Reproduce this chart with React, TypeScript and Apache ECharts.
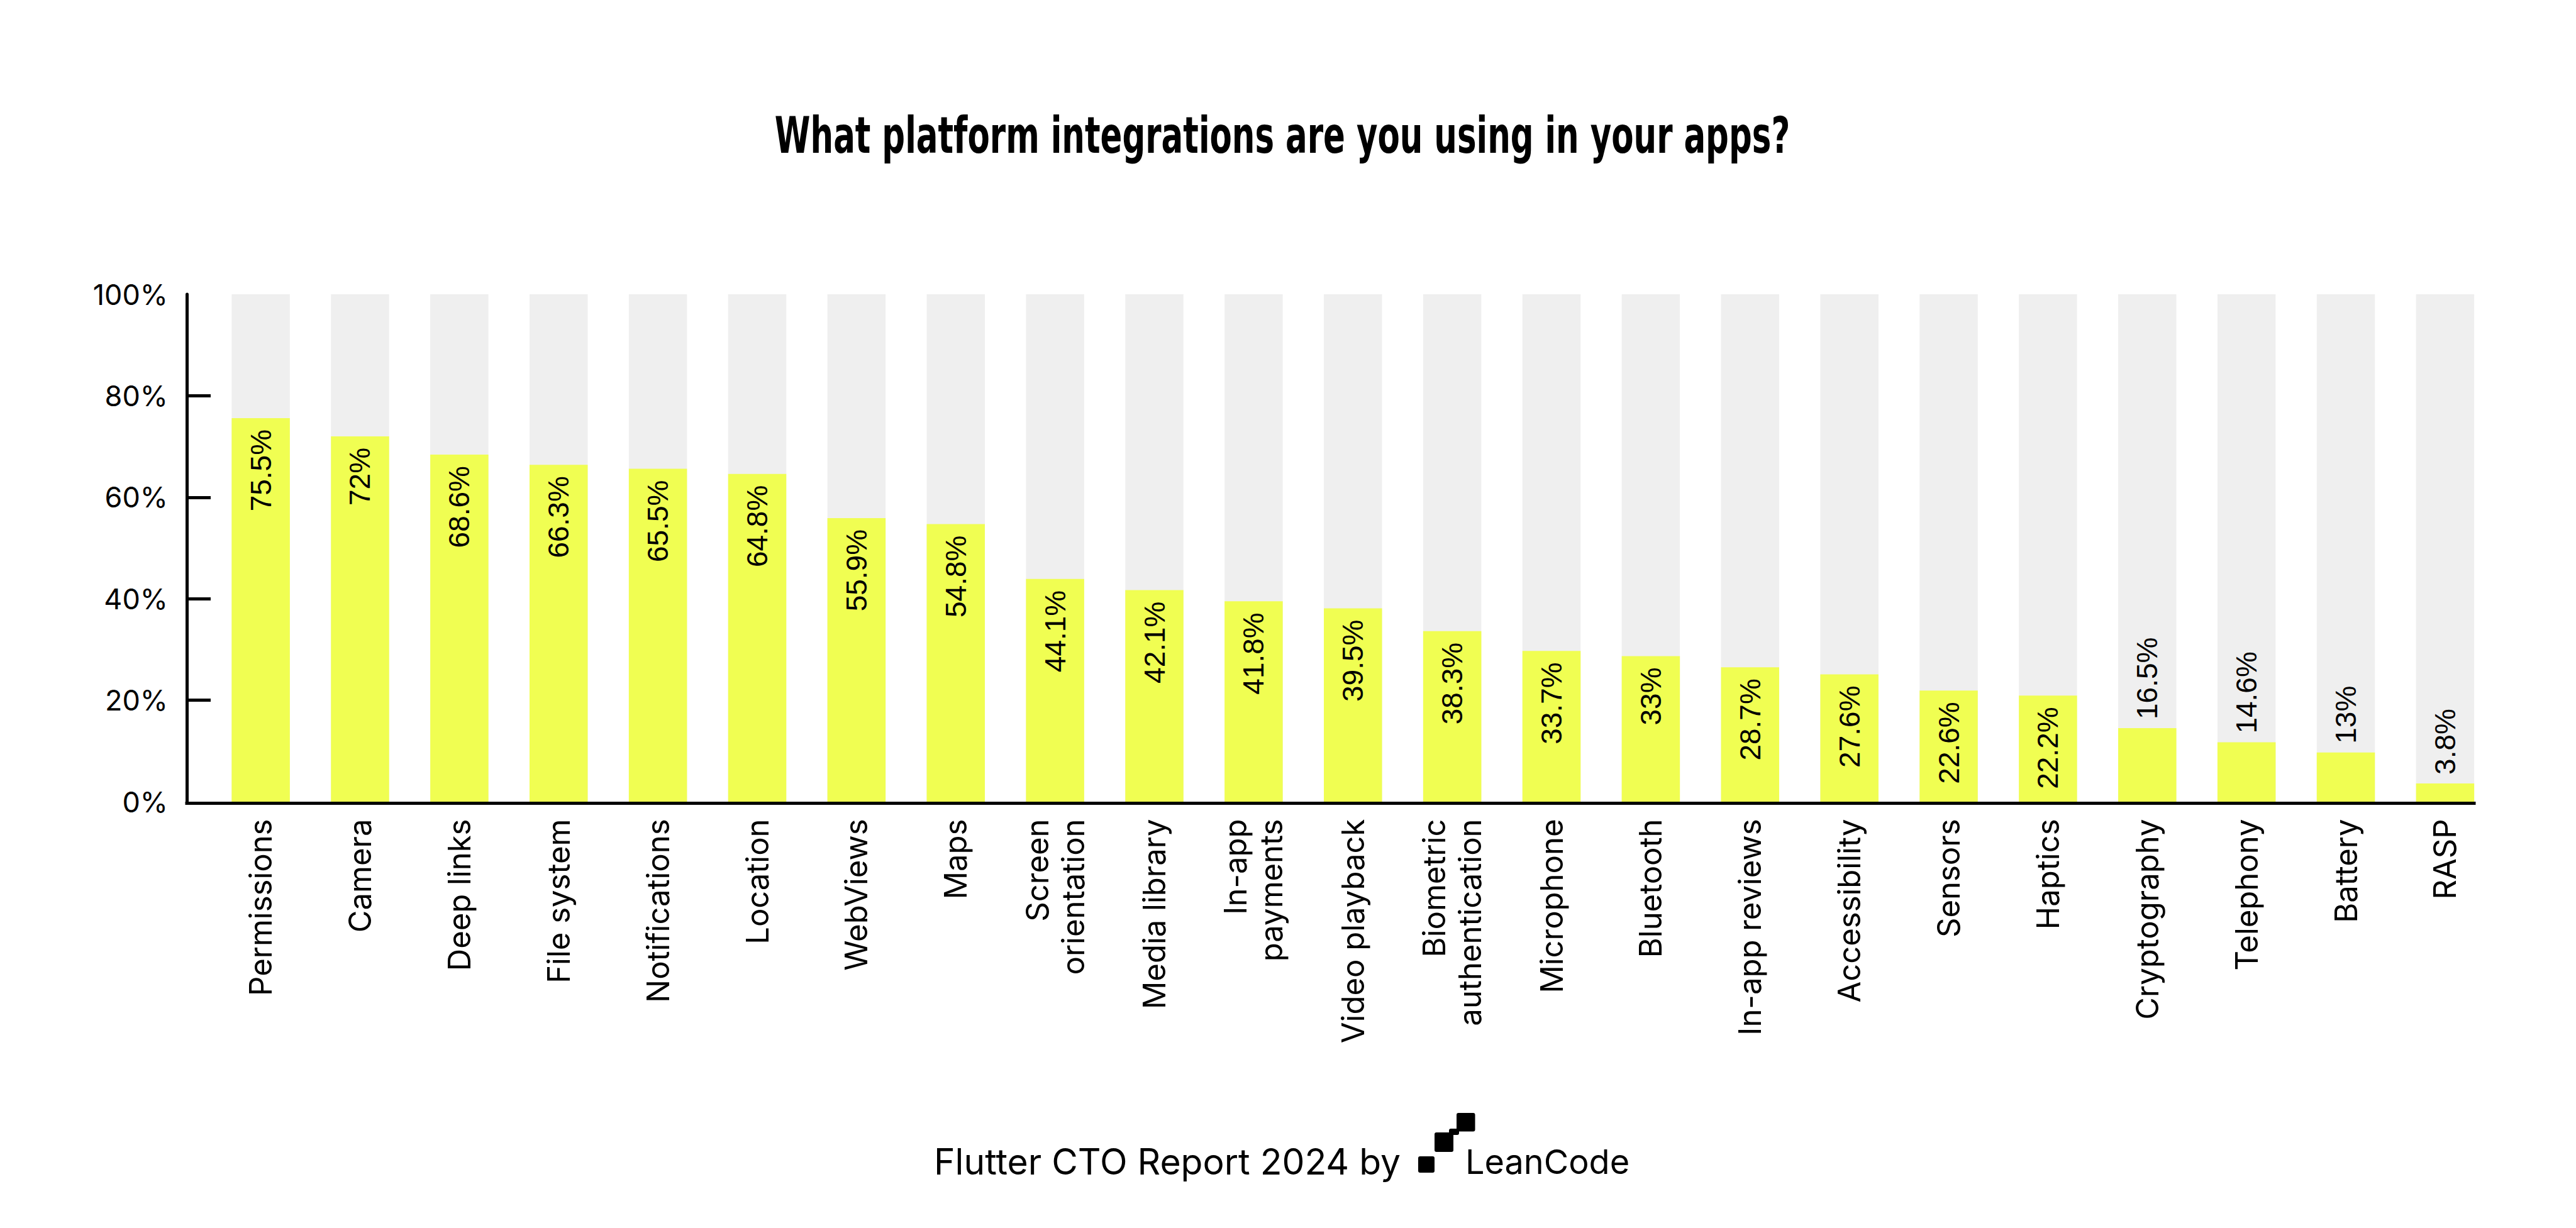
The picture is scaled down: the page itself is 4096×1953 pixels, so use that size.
import React, { useEffect, useRef } from 'react';
import * as echarts from 'echarts';

// ---- data ----
const categories = [
  'Permissions', 'Camera', 'Deep links', 'File system', 'Notifications', 'Location',
  'WebViews', 'Maps', 'Screen\norientation', 'Media library', 'In-app\npayments',
  'Video playback', 'Biometric\nauthentication', 'Microphone', 'Bluetooth',
  'In-app reviews', 'Accessibility', 'Sensors', 'Haptics', 'Cryptography',
  'Telephony', 'Battery', 'RASP',
];
// bar heights as drawn in the reference (percent)
const barHeights = [
  75.6, 72.0, 68.4, 66.4, 65.6, 64.6, 55.9, 54.7, 43.9, 41.7, 39.5, 38.1,
  33.6, 29.7, 28.7, 26.5, 25.1, 21.9, 20.9, 14.5, 11.7, 9.7, 3.6,
];
// values printed on the bars (percent)
const printedValues = [
  75.5, 72, 68.6, 66.3, 65.5, 64.8, 55.9, 54.8, 44.1, 42.1, 41.8, 39.5,
  38.3, 33.7, 33, 28.7, 27.6, 22.6, 22.2, 16.5, 14.6, 13, 3.8,
];
const yInnerTicks = [20, 40, 60, 80];
const TITLE = 'What platform integrations are you using in your apps?';
const FOOTER = 'Flutter CTO Report 2024 by';
const BRAND = 'LeanCode';

const YELLOW = '#f0fe52';
const GREY = '#efefef';

function measure(font: string, text: string): number {
  const c = document.createElement('canvas').getContext('2d');
  if (!c) return 0;
  c.font = font;
  return c.measureText(text).width;
}

export default function App() {
  const ref = useRef<HTMLDivElement>(null);

  useEffect(() => {
    document.body.style.margin = '0';
    if (!ref.current) return;
    const chart = echarts.init(ref.current, undefined, { renderer: 'svg' });

    const titleW = measure('bold 80px "DejaVu Sans"', TITLE) || 2300;
    const titleScale = 1614 / titleW;

    const catIdx = categories.map((_, i) => i);

    const option: any = {
      animation: false,
      backgroundColor: '#ffffff',
      grid: {
        left: 297,
        right: 162,
        top: 468,
        bottom: 678,
        containLabel: false,
        outerBoundsMode: 'none',
      },
      xAxis: {
        type: 'value',
        name: '',
        min: -0.745,
        max: 22.292,
        offset: 2.5,
        splitLine: { show: false },
        axisTick: { show: false },
        axisLine: { show: true, onZero: false, lineStyle: { color: '#000', width: 5, cap: 'square' } },
        axisLabel: {
          show: true,
          customValues: catIdx,
          formatter: (v: number) => categories[Math.round(v)] ?? '',
          rotate: 90,
          margin: 25,
          color: '#000',
          fontFamily: 'Inter',
          fontSize: 49,
          lineHeight: 57,
          hideOverlap: false,
        },
      },
      yAxis: {
        type: 'value',
        name: '',
        min: 0,
        max: 100,
        interval: 20,
        splitLine: { show: false },
        axisLine: { show: true, onZero: false, lineStyle: { color: '#000', width: 5 } },
        axisTick: {
          show: true,
          inside: true,
          length: 38,
          customValues: yInnerTicks,
          lineStyle: { color: '#000', width: 5 },
        },
        axisLabel: {
          formatter: '{value}%',
          margin: 30,
          color: '#000',
          fontFamily: 'Inter',
          fontSize: 45,
        },
      },
      series: [
        {
          type: 'bar',
          barWidth: 92.5,
          showBackground: true,
          backgroundStyle: { color: GREY, borderWidth: 0 },
          itemStyle: { color: YELLOW, borderWidth: 0 },
          emphasis: { disabled: true },
          label: { show: false },
          data: barHeights.map((h, i) => {
            const outside = h < 18;
            return {
              value: [i, h],
              label: {
                show: true,
                rotate: 90,
                position: outside ? 'top' : 'insideTop',
                distance: outside ? 14 : 18,
                align: outside ? 'left' : 'right',
                verticalAlign: 'middle',
                formatter: () => `${printedValues[i]}%`,
                color: '#000',
                fontFamily: '"Liberation Sans", Arial, sans-serif',
                fontSize: 46,
              },
            };
          }),
        },
      ],
      graphic: [
        {
          type: 'text',
          x: 2039,
          y: 216,
          scaleX: titleScale,
          style: {
            text: TITLE,
            fontFamily: 'DejaVu Sans',
            fontWeight: 'bold',
            fontSize: 80,
            fill: '#000',
            align: 'center',
            verticalAlign: 'middle',
          },
        },
        {
          type: 'text',
          x: 2227,
          y: 1847,
          style: {
            text: FOOTER,
            fontFamily: 'Inter',
            fontSize: 57,
            fill: '#000',
            align: 'right',
            verticalAlign: 'middle',
          },
        },
        { type: 'rect', shape: { x: 2255, y: 1839, width: 26, height: 26, r: 3 }, style: { fill: '#000' } },
        { type: 'rect', shape: { x: 2281, y: 1801, width: 30, height: 31, r: 3 }, style: { fill: '#000' } },
        { type: 'rect', shape: { x: 2304, y: 1795, width: 16, height: 10, r: 3 }, style: { fill: '#000' } },
        { type: 'rect', shape: { x: 2316, y: 1770, width: 29.5, height: 29.5, r: 3 }, style: { fill: '#000' } },
        {
          type: 'text',
          x: 2330,
          y: 1847,
          style: {
            text: BRAND,
            fontFamily: 'Inter',
            fontSize: 54,
            fill: '#000',
            align: 'left',
            verticalAlign: 'middle',
          },
        },
      ],
    };

    chart.setOption(option);
    return () => chart.dispose();
  }, []);

  return (
    <div
      ref={ref}
      style={{ position: 'fixed', left: 0, top: 0, width: 4096, height: 1953, background: '#fff' }}
    />
  );
}
